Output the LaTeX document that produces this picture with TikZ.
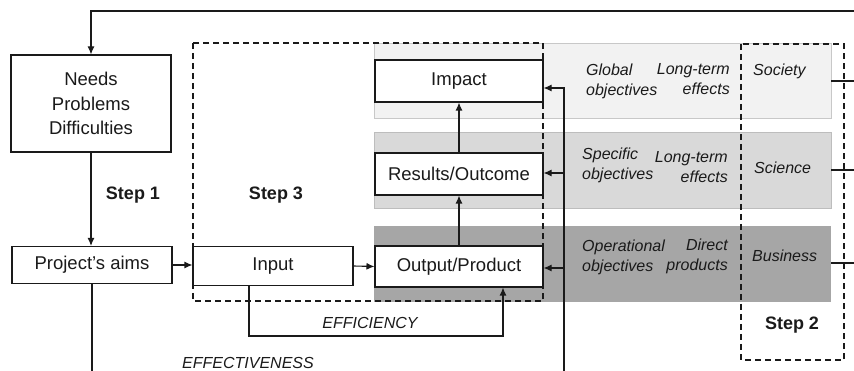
\documentclass[tikz,border=0pt]{standalone}
\usepackage{fontspec}
\setmainfont{Liberation Sans}
\usetikzlibrary{arrows.meta}
\definecolor{bandA}{HTML}{F2F2F2}
\definecolor{bandAline}{HTML}{C8C8C8}
\definecolor{bandB}{HTML}{D9D9D9}
\definecolor{bandBline}{HTML}{BDBDBD}
\definecolor{bandC}{HTML}{A6A6A6}
\definecolor{ink}{HTML}{1A1A1A}
\begin{document}
\begin{tikzpicture}[x=1pt,y=-1pt,
  box/.style={draw=ink, line width=1.1pt, fill=white, inner sep=0pt, text=ink,
    font=\fontsize{18.5}{24.5}\selectfont, align=center},
  lbl/.style={font=\fontsize{16}{20}\selectfont\itshape, inner sep=0pt, text=ink},
  steplbl/.style={font=\fontsize{18}{22}\selectfont\bfseries, inner sep=0pt, text=ink},
  conn/.style={line width=1.1pt, draw=ink},
  arr/.style={conn, -{Latex[length=8pt,width=7pt]}},
  dashbox/.style={draw=ink, line width=1.8pt, dash pattern=on 6pt off 4pt},
]
\useasboundingbox (0,0) rectangle (854,371);

% bands
\fill[bandA] (374,43) rectangle (831,118);
\draw[bandAline, line width=0.8pt] (374,43) rectangle (831,118);
\fill[bandB] (374,132) rectangle (831,208);
\draw[bandBline, line width=0.8pt] (374,132) rectangle (831,208);
\fill[bandC] (374,226) rectangle (831,302);

% band labels
\node[lbl, anchor=west, align=left] (globobj) at (586,81) {Global\\objectives};
\node[lbl, anchor=east, align=right] (globeff) at (730,79) {Long-term\\effects};
\node[lbl, anchor=west] (society) at (753,71) {Society};
\node[lbl, anchor=west, align=left] (specobj) at (582,165) {Specific\\objectives};
\node[lbl, anchor=east, align=right] (speceff) at (728,167) {Long-term\\effects};
\node[lbl, anchor=west] (science) at (754,168) {Science};
\node[lbl, anchor=west, align=left] (operobj) at (582,257) {Operational\\objectives};
\node[lbl, anchor=east, align=right] (opereff) at (728,256) {Direct\\products};
\node[lbl, anchor=west] (business) at (752,256) {Business};

% main boxes
\node[box, minimum width=160pt, minimum height=97pt] (needs) at (91,103.5) {Needs\\Problems\\Difficulties};
\node[box, minimum width=160pt, minimum height=37pt] (aims) at (92,265) {Project’s aims};
\node[box, minimum width=160pt, minimum height=39pt] (input) at (273,266) {Input};
\node[box, minimum width=168pt, minimum height=42pt] (impact) at (459,81) {Impact};
\node[box, minimum width=168pt, minimum height=42pt] (results) at (459,174) {Results/Outcome};
\node[box, minimum width=168pt, minimum height=41pt] (output) at (459,266.5) {Output/Product};

% step labels
\node[steplbl] (step1) at (133,195) {Step 1};
\node[steplbl] (step3) at (276,195) {Step 3};
\node[steplbl] (step2) at (792,325) {Step 2};
\node[lbl] (effic) at (370,323) {EFFICIENCY};
\node[lbl] (effect) at (248,363) {EFFECTIVENESS};

% coordinates
\coordinate (topR) at (854,11);
\coordinate (bottom) at (0,371);
\coordinate (e1) at (249,336);
\coordinate (e2) at (503,336);
\coordinate (vbot) at (564,371);
\coordinate (vImp) at (564,88);
\coordinate (vRes) at (564,173);
\coordinate (vOut) at (564,268);
\coordinate (rA) at (831,81);  \coordinate (rA2) at (854,81);
\coordinate (rB) at (831,170); \coordinate (rB2) at (854,170);
\coordinate (rC) at (831,263); \coordinate (rC2) at (854,263);

% connectors
\draw[arr] (topR) -- (needs.north |- topR) -- (needs.north);
\draw[arr] (needs.south) -- (needs.south |- aims.north);
\draw[conn] (aims.south) -- (aims.south |- bottom);
\draw[arr] (aims.east) -- (aims.east -| input.west);
\draw[arr] (input.east) -- (output.west);
\draw[arr] (output.north) -- (results.south);
\draw[arr] (results.north) -- (impact.south);
\draw[arr] (input.south -| e1) -- (e1) -- (e2) -- (e2 |- output.south);
\draw[arr] (vbot) -- (vImp) -- (vImp -| impact.east);
\draw[arr] (vRes) -- (vRes -| results.east);
\draw[arr] (vOut) -- (vOut -| output.east);
\draw[conn] (rA) -- (rA2);
\draw[conn] (rB) -- (rB2);
\draw[conn] (rC) -- (rC2);

% dashed step boxes
\draw[dashbox] (193,43) rectangle (543,301);
\draw[dashbox] (741,44) rectangle (844,360);
\end{tikzpicture}
\end{document}
